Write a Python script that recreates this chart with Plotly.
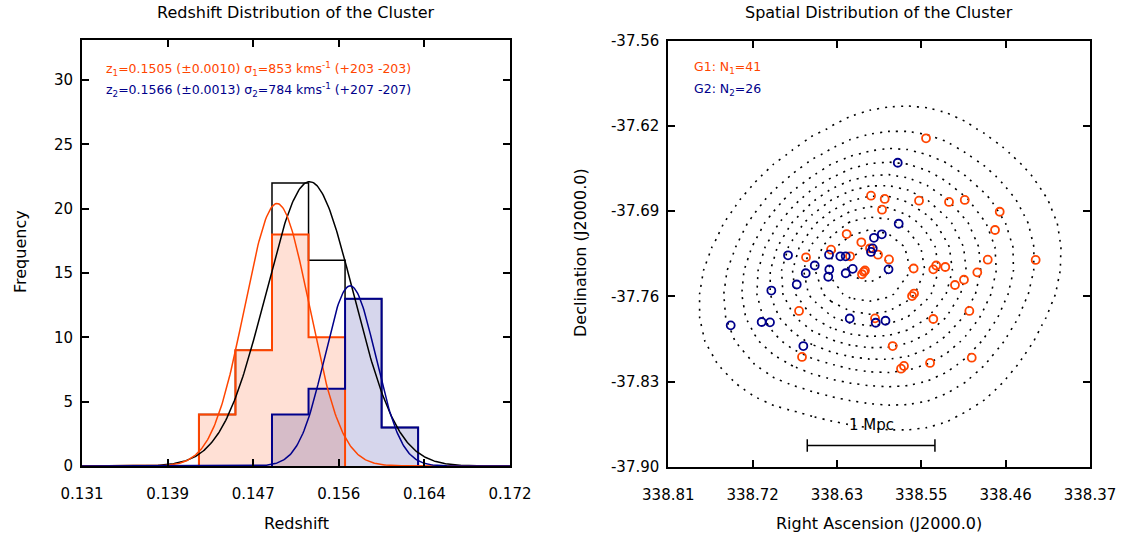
import numpy as np
import plotly.graph_objects as go

# ---------------- Left panel data (redshift histogram) ----------------
bin_edges = [0.1422, 0.1457, 0.1492, 0.1527, 0.1562, 0.1597, 0.1632]
g1_counts = [4, 9, 18, 10, 0, 0]
g2_counts = [0, 0, 4, 6, 13, 3]
all_counts = [4, 9, 22, 16, 13, 3]

# Gaussian fits: amplitude, centre, width
fit_g1 = [20.4, 0.14968, 0.0031]
fit_g2 = [14.0, 0.15669, 0.00245]
fit_all = [22.1, 0.1528, 0.0042]

x_ticks = [0.131, 0.1392, 0.1474, 0.1556, 0.1638, 0.172]
x_ticklabels = ["0.131", "0.139", "0.147", "0.156", "0.164", "0.172"]
y_ticks = [0, 5, 10, 15, 20, 25, 30]

# ---------------- Right panel data (sky positions) ----------------
ra_g1 = [338.5411, 338.5985, 338.5842, 338.5484, 338.5171, 338.5007, 338.5870, 338.4642,
         338.4691, 338.6239, 338.6086, 338.5995, 338.5912, 338.6402, 338.6663, 338.6204,
         338.5797, 338.6048, 338.6079, 338.5540, 338.5305, 338.5335, 338.5210, 338.4767,
         338.4267, 338.4876, 338.5015, 338.5109, 338.5536, 338.5557, 338.4959, 338.6736,
         338.5943, 338.5335, 338.5759, 338.6705, 338.5641, 338.5672, 338.5369, 338.4934,
         338.6060]
dec_g1 = [-37.6339, -37.6797, -37.6823, -37.6837, -37.6847, -37.6831, -37.6909, -37.6925,
          -37.7071, -37.7103, -37.7169, -37.7217, -37.7268, -37.7228, -37.7289, -37.7281,
          -37.7306, -37.7394, -37.7424, -37.7378, -37.7354, -37.7385, -37.7366, -37.7308,
          -37.7310, -37.7409, -37.7468, -37.7510, -37.7578, -37.7598, -37.7717, -37.7717,
          -37.7776, -37.7781, -37.7997, -37.8084, -37.8156, -37.8178, -37.8132, -37.8090,
          -37.7405]
ra_g2 = [338.5706, 338.5696, 338.5872, 338.5954, 338.5967, 338.5985, 338.6851, 338.6423,
         338.6305, 338.6249, 338.6572, 338.6666, 338.6420, 338.6431, 338.6249, 338.6176,
         338.5802, 338.6760, 338.7025, 338.7449, 338.7126, 338.7039, 338.6207, 338.5936,
         338.5834, 338.6691]
dec_g2 = [-37.6534, -37.7021, -37.7105, -37.7133, -37.7218, -37.7246, -37.7273, -37.7268,
          -37.7281, -37.7281, -37.7354, -37.7416, -37.7386, -37.7444, -37.7416, -37.7381,
          -37.7385, -37.7506, -37.7554, -37.7832, -37.7805, -37.7808, -37.7777, -37.7811,
          -37.7795, -37.7997]

ra_ticks = [338.81, 338.722, 338.634, 338.546, 338.458, 338.37]
ra_ticklabels = ["338.81", "338.72", "338.63", "338.55", "338.46", "338.37"]
dec_ticks = [-37.556, -37.624, -37.692, -37.760, -37.828, -37.896]
dec_ticklabels = ["-37.56", "-37.62", "-37.69", "-37.76", "-37.83", "-37.90"]

ORANGE = "#ff4500"
BLUE = "#00008b"
FONT = "DejaVu Sans"

W, H = 1130, 540


def px(x):
    return x / W


def py(y):
    return 1 - y / H


fig = go.Figure()

# ---------- histogram fills ----------
bw = bin_edges[1] - bin_edges[0]
centres = [(bin_edges[i] + bin_edges[i + 1]) / 2 for i in range(len(bin_edges) - 1)]


def nz(counts):
    xs = [c for c, n in zip(centres, counts) if n > 0]
    ys = [n for n in counts if n > 0]
    return xs, ys


x1, y1 = nz(g1_counts)
x2, y2 = nz(g2_counts)
fig.add_trace(go.Bar(x=x1, y=y1, width=bw, marker=dict(color="rgba(255,69,0,0.165)", line=dict(width=0)),
                     xaxis="x", yaxis="y", showlegend=False))
fig.add_trace(go.Bar(x=x2, y=y2, width=bw, marker=dict(color="rgba(0,0,139,0.16)", line=dict(width=0)),
                     xaxis="x", yaxis="y", showlegend=False))


def step(counts):
    idx = [i for i, n in enumerate(counts) if n > 0]
    i0, i1 = idx[0], idx[-1]
    xs = [bin_edges[i0]] + [bin_edges[i] for i in range(i0, i1 + 2)]
    ys = [0] + [counts[i] for i in range(i0, i1 + 1)] + [0]
    return xs, ys


for counts, col, w in [(all_counts, "black", 1.5), (g1_counts, ORANGE, 2), (g2_counts, BLUE, 2)]:
    sx, sy = step(counts)
    fig.add_trace(go.Scatter(x=sx, y=sy, mode="lines", line=dict(color=col, width=w, shape="hv"),
                             xaxis="x", yaxis="y", showlegend=False))

# ---------- Gaussian curves ----------
zz = np.linspace(0.131, 0.172, 400)
for (a, m, s), col in [(fit_all, "black"), (fit_g1, ORANGE), (fit_g2, BLUE)]:
    fig.add_trace(go.Scatter(x=zz, y=a * np.exp(-0.5 * ((zz - m) / s) ** 2), mode="lines",
                             line=dict(color=col, width=1.5), xaxis="x", yaxis="y", showlegend=False))

# ---------- density contours from member positions ----------
ra_all = np.array(ra_g1 + ra_g2)
dec_all = np.array(dec_g1 + dec_g2)
gx = np.linspace(338.80, 338.38, 22)
gy = np.linspace(-37.89, -37.57, 18)
GX, GY = np.meshgrid(gx, gy)
Z = np.zeros_like(GX)
for r, d in zip(ra_all, dec_all):
    Z += np.exp(-0.5 * (((GX - r) / 0.055) ** 2 + ((GY - d) / 0.045) ** 2))
Z /= Z.max()
fig.add_trace(go.Contour(x=gx, y=gy, z=Z, xaxis="x2", yaxis="y2", showscale=False,
                         contours=dict(coloring="lines", start=0.1, end=0.96, size=0.086),
                         colorscale=[[0, "black"], [1, "black"]],
                         line=dict(width=1.6, dash="2px,6px", smoothing=0), hoverinfo="skip"))

fig.add_trace(go.Scatter(x=ra_g1, y=dec_g1, mode="markers", xaxis="x2", yaxis="y2", showlegend=False,
                         marker=dict(symbol="circle-open", size=8, color=ORANGE, line=dict(width=1.8, color=ORANGE))))
fig.add_trace(go.Scatter(x=ra_g2, y=dec_g2, mode="markers", xaxis="x2", yaxis="y2", showlegend=False,
                         marker=dict(symbol="circle-open", size=8, color=BLUE, line=dict(width=1.8, color=BLUE))))

axis_common = dict(showline=True, linewidth=2, linecolor="black", mirror="ticks", ticks="inside",
                   ticklen=7, tickwidth=1.5, tickcolor="black", showgrid=False, zeroline=False,
                   automargin=False, tickfont=dict(family=FONT, size=15, color="black"))

fig.update_layout(
    width=W, height=H, margin=dict(l=0, r=0, t=0, b=0, autoexpand=False),
    plot_bgcolor="white", paper_bgcolor="white", barmode="overlay", bargap=0,
    xaxis=dict(domain=[px(82), px(510)], range=[0.131, 0.172], tickvals=x_ticks, ticktext=x_ticklabels,
               anchor="y", ticklabelstandoff=13, **axis_common),
    yaxis=dict(domain=[py(466), py(39.5)], range=[0, 33.15], tickvals=y_ticks,
               anchor="x", ticklabelstandoff=4, **axis_common),
    xaxis2=dict(domain=[px(668.3), px(1090)], range=[338.81, 338.37], tickvals=ra_ticks,
                ticktext=ra_ticklabels, anchor="y2", ticklabelstandoff=13, **axis_common),
    yaxis2=dict(domain=[py(466.7), py(40.7)], range=[-37.896, -37.556], tickvals=dec_ticks,
                ticktext=dec_ticklabels, anchor="x2", ticklabelstandoff=4, **axis_common),
    showlegend=False,
)

ann = []


def txt(x, y, s, size=16, color="black", angle=0, xanchor="center"):
    ann.append(dict(x=px(x), y=py(y), xref="paper", yref="paper", text=s, showarrow=False,
                    textangle=angle, xanchor=xanchor, yanchor="middle",
                    font=dict(family=FONT, size=size, color=color)))


txt(296, 12, "Redshift Distribution of the Cluster")
txt(879, 12, "Spatial Distribution of the Cluster")
txt(296, 523, "Redshift")
txt(879, 523, "Right Ascension (J2000.0)")
txt(20, 252, "Frequency", angle=-90)
txt(580, 253, "Declination (J2000.0)", angle=-90)
txt(104, 69, "z<sub>1</sub>=0.1505 (±0.0010) σ<sub>1</sub>=853 kms<sup>-1</sup> (+203 -203)",
    size=12.5, color=ORANGE, xanchor="left")
txt(104, 90, "z<sub>2</sub>=0.1566 (±0.0013) σ<sub>2</sub>=784 kms<sup>-1</sup> (+207 -207)",
    size=12.5, color=BLUE, xanchor="left")
txt(692, 68, "G1: N<sub>1</sub>=41", size=12.5, color=ORANGE, xanchor="left")
txt(692, 90, "G2: N<sub>2</sub>=26", size=12.5, color=BLUE, xanchor="left")

# scale bar (1 Mpc) in data coordinates of the sky panel
bar_x0, bar_x1, bar_y = 338.665, 338.5318, -37.879
fig.add_shape(type="line", x0=bar_x0, x1=bar_x1, y0=bar_y, y1=bar_y, xref="x2", yref="y2",
              line=dict(color="black", width=1.5))
for bx in (bar_x0, bar_x1):
    fig.add_shape(type="line", x0=bx, x1=bx, y0=bar_y - 0.005, y1=bar_y + 0.005, xref="x2", yref="y2",
                  line=dict(color="black", width=1.5))
ann.append(dict(x=(bar_x0 + bar_x1) / 2, y=-37.863, xref="x2", yref="y2", text="1 Mpc", showarrow=False,
                font=dict(family=FONT, size=15, color="black")))

fig.update_layout(annotations=ann)
# remove the default 8px page margin so the figure fills the window exactly
fig.write_html("out.html", config={"displayModeBar": False},
               post_script="document.body.style.margin='0px';document.body.style.overflow='hidden';")
